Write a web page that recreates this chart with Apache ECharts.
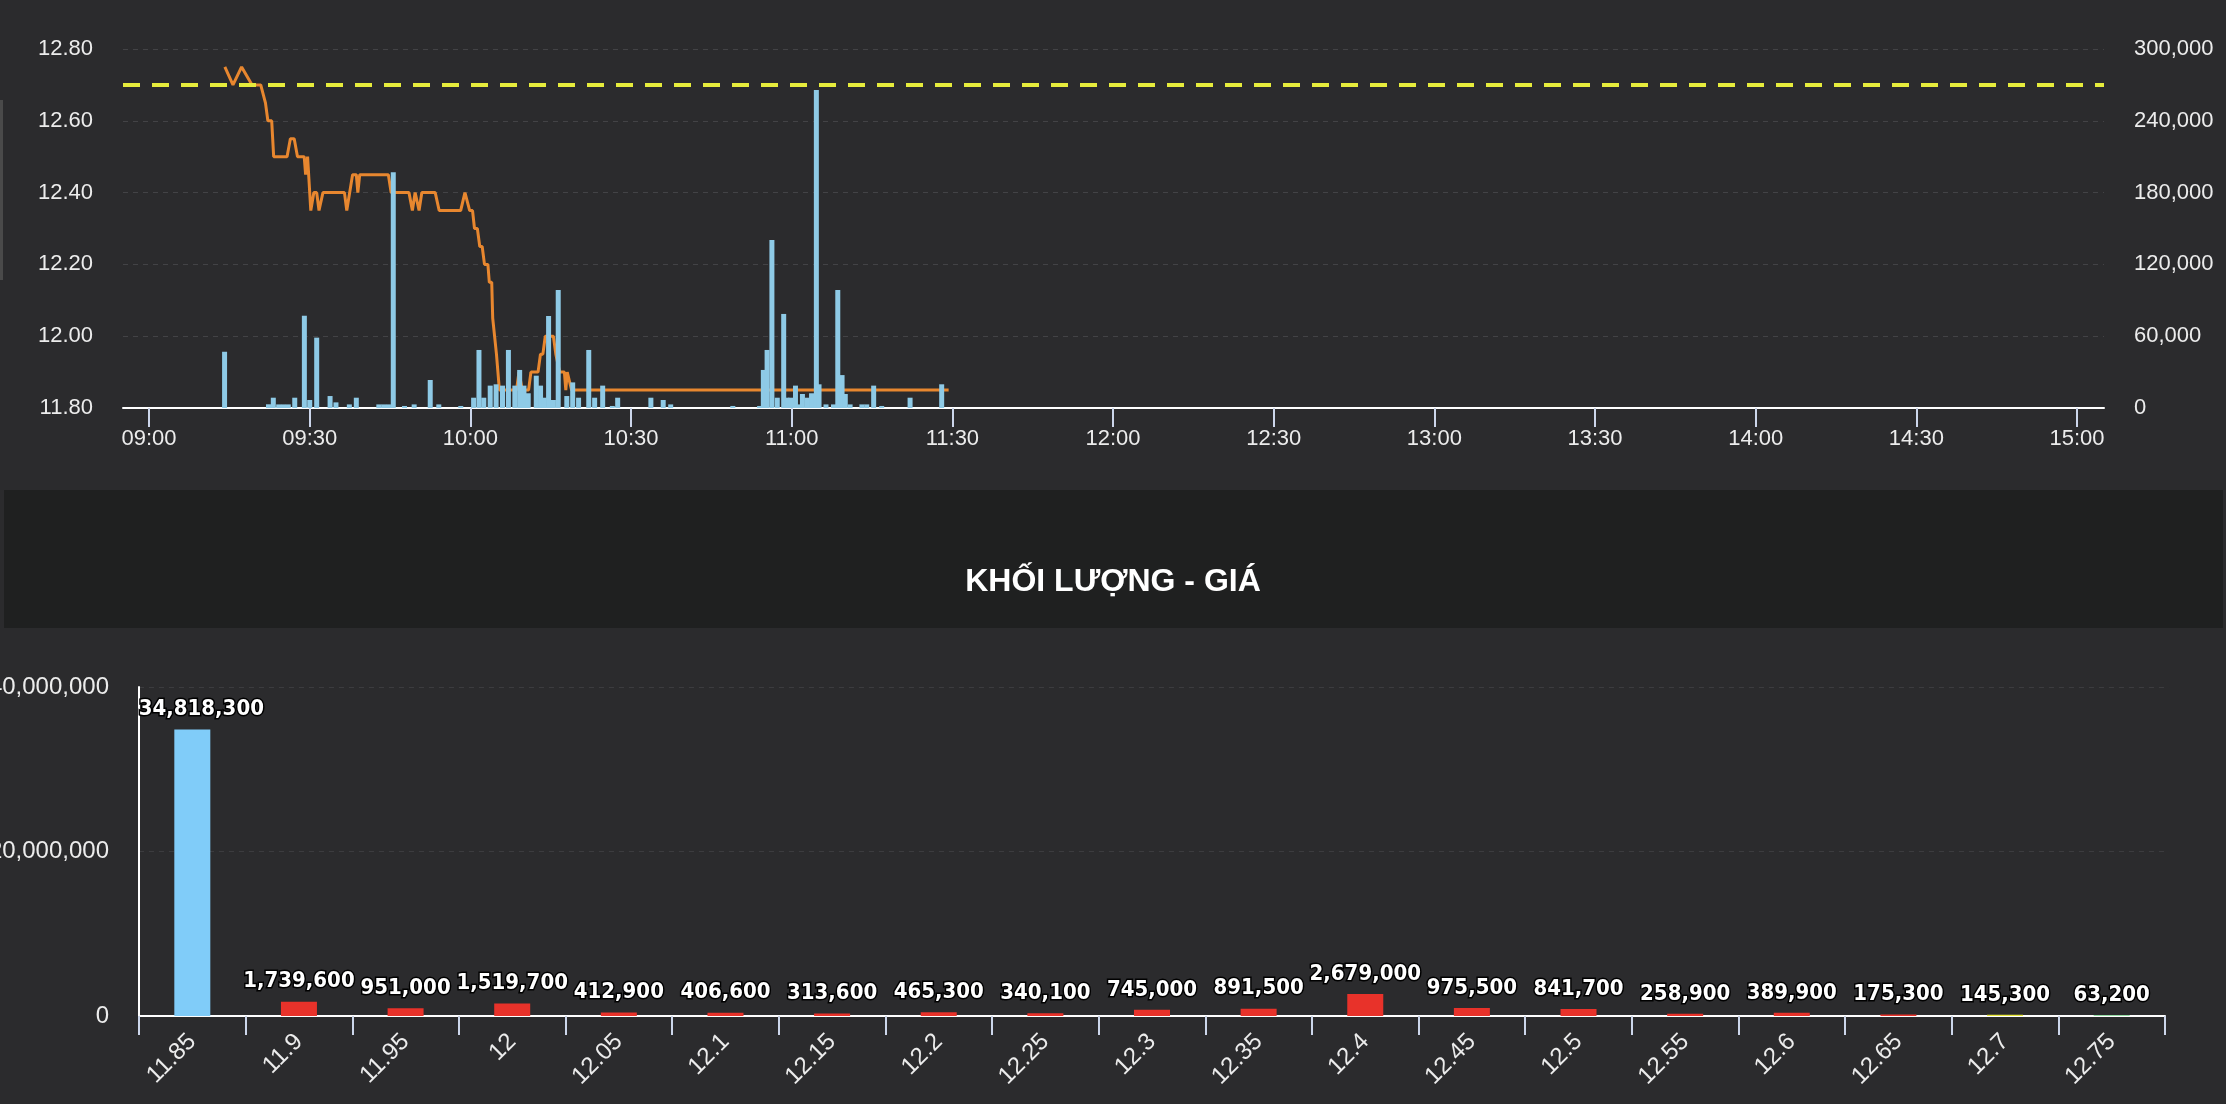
<!DOCTYPE html>
<html><head><meta charset="utf-8">
<script src="https://cdn.jsdelivr.net/npm/echarts@6/dist/echarts.min.js"></script>
<style>html,body{margin:0;padding:0;background:#2b2b2d;overflow:hidden}#c{width:2226px;height:1104px}</style>
</head><body><div id="c"></div>
<script>
// ---- data ----
const priceTimes = ['09:14:09','09:15:40','09:17:17','09:19:14','09:20:51','09:21:44','09:22:11','09:22:54','09:23:16','09:25:46','09:26:23','09:27:06','09:27:43','09:28:58','09:29:14','09:29:36','09:30:12','09:30:46','09:31:18','09:31:44','09:32:28','09:36:29','09:36:55','09:38:00','09:38:42','09:38:59','09:39:20','09:44:41','09:45:12','09:48:32','09:49:10','09:49:41','09:50:25','09:50:56','09:53:26','09:54:10','09:58:11','09:58:59','09:59:52','10:00:24','10:00:46','10:01:18','10:01:45','10:02:12','10:02:38','10:03:16','10:03:32','10:03:59','10:04:10','10:04:31','10:04:52','10:05:25','10:08:37','10:09:04','10:09:42','10:10:52','10:11:18','10:12:38','10:13:05','10:13:32','10:13:59','10:15:30','10:15:57','10:16:40','10:17:33','10:17:49','10:18:05','10:18:27','10:18:54','11:29:18'];
const priceValues = [12.75,12.70,12.75,12.70,12.70,12.65,12.60,12.60,12.50,12.50,12.55,12.55,12.50,12.50,12.45,12.50,12.35,12.40,12.40,12.35,12.40,12.40,12.35,12.45,12.45,12.40,12.45,12.45,12.40,12.40,12.35,12.40,12.35,12.40,12.40,12.35,12.35,12.40,12.35,12.35,12.30,12.30,12.25,12.25,12.20,12.20,12.15,12.15,12.05,12.00,11.95,11.85,11.85,11.90,11.85,11.85,11.90,11.90,11.95,11.95,12.00,12.00,11.95,11.90,11.90,11.85,11.90,11.90,11.85,11.85];

const volTimes = ['09:14:06','09:22:18','09:23:12','09:24:12','09:25:06','09:26:00','09:27:12','09:29:00','09:30:00','09:31:18','09:33:48','09:34:54','09:37:24','09:38:42','09:42:54','09:43:48','09:44:42','09:45:36','09:47:42','09:49:30','09:52:30','09:54:06','09:58:12','10:00:36','10:01:36','10:02:30','10:03:42','10:04:48','10:06:00','10:07:06','10:08:18','10:09:12','10:10:00','10:10:48','10:12:18','10:13:06','10:13:48','10:14:36','10:15:30','10:16:24','10:18:00','10:19:06','10:20:12','10:22:06','10:23:12','10:24:42','10:26:30','10:27:30','10:33:42','10:36:00','10:37:24','10:49:00','10:54:00','10:54:42','10:55:24','10:56:18','10:57:18','10:58:30','10:59:06','10:59:48','11:00:42','11:01:18','11:02:00','11:02:54','11:03:42','11:04:36','11:05:06','11:06:24','11:07:48','11:08:36','11:09:24','11:10:00','11:10:54','11:13:06','11:14:00','11:15:18','11:16:48','11:22:06','11:28:00'];
const volValues = [47000,3100,8600,3000,3000,3000,8600,77100,6700,58800,10000,4700,3000,8600,3000,3000,3000,197000,1700,3000,23400,3000,1700,8600,48500,8600,18700,19800,18700,48500,18700,31800,18700,12300,27000,18700,8600,76900,6700,98600,10000,21400,8600,48500,8600,18700,1700,8600,8600,6700,3000,1700,1700,31800,48500,140400,8600,78600,8600,8600,18700,3000,11700,8600,12300,265800,19800,3000,3000,98600,27500,11700,3000,3000,3000,18700,1700,8600,19800];

const referencePrice = 12.70;
const floorPrice = 11.85;
const timeTicks = ['09:00','09:30','10:00','10:30','11:00','11:30','12:00','12:30','13:00','13:30','14:00','14:30','15:00'];
const axisStart = '08:55:08';
const axisEnd = '15:05:02';

const priceLevels = ['11.85','11.9','11.95','12','12.05','12.1','12.15','12.2','12.25','12.3','12.35','12.4','12.45','12.5','12.55','12.6','12.65','12.7','12.75'];
const levelVolumes = [34818300,1739600,951000,1519700,412900,406600,313600,465300,340100,745000,891500,2679000,975500,841700,258900,389900,175300,145300,63200];

// ---- helpers ----
function toMin(t){const p=t.split(':').map(Number);return p[0]*60+p[1]+(p[2]||0)/60;}
function fmtTime(v){const h=Math.floor(v/60+1e-6), m=Math.round(v-h*60);return String(h).padStart(2,'0')+':'+String(m).padStart(2,'0');}
function fmtNum(v){return Math.round(v).toLocaleString('en-US');}

const AX_FONT = "'Liberation Sans', Arial, sans-serif";
const LBL_COLOR = '#ececec';
const TICK_COLOR = '#ccd6eb';
const GRID_COLOR = '#434346';

const chart = echarts.init(document.getElementById('c'), null, {renderer:'canvas'});

const pricePairs = priceTimes.map((t,i)=>[toMin(t), priceValues[i]]);
const volPairs = volTimes.map((t,i)=>[toMin(t), volValues[i]]);
const tickVals = timeTicks.map(toMin);

function levelColor(p){
  const v = parseFloat(p);
  if (Math.abs(v - floorPrice) < 1e-9) return '#80ccf9';
  if (Math.abs(v - referencePrice) < 1e-9) return '#e9e93a';
  if (v > referencePrice) return '#2bbd4a';
  return '#e8322a';
}

const option = {
  backgroundColor: '#2b2b2d',
  animation: false,
  title: {
    text: 'KHỐI LƯỢNG - GIÁ',
    left: 'center',
    top: 561,
    textStyle: {color:'#ffffff', fontSize:32, fontWeight:'bold', fontFamily: AX_FONT}
  },
  graphic: [
    {type:'rect', left:4, top:490, z:-10, shape:{width:2219, height:138}, style:{fill:'#1f2020'}},
    {type:'rect', left:0, top:100, z:-10, shape:{width:3, height:180}, style:{fill:'#4a4a4a'}}
  ],
  grid: [
    {left:123, right:122, top:49, height:359, containLabel:false, outerBoundsMode:'none'},
    {left:139, right:61, top:687, height:329, containLabel:false, outerBoundsMode:'none'}
  ],
  xAxis: [
    {
      type:'value', gridIndex:0, min: toMin(axisStart), max: toMin(axisEnd),
      axisLine:{show:true, lineStyle:{color:'#ffffff', width:2}},
      axisTick:{show:true, customValues: tickVals, length:19, lineStyle:{color:TICK_COLOR, width:2}},
      axisLabel:{customValues: tickVals, formatter: fmtTime, color:LBL_COLOR, fontSize:22, fontFamily:AX_FONT, margin:20},
      splitLine:{show:false}
    },
    {
      type:'category', gridIndex:1, data: priceLevels, boundaryGap:true,
      axisLine:{show:true, lineStyle:{color:'#ffffff', width:2}},
      axisTick:{show:true, alignWithLabel:false, length:19, lineStyle:{color:TICK_COLOR, width:2}},
      axisLabel:{rotate:45, color:LBL_COLOR, fontSize:24, fontFamily:AX_FONT, margin:22, interval:0},
      splitLine:{show:false}
    }
  ],
  yAxis: [
    {
      type:'value', gridIndex:0, position:'left', min:11.8, max:12.8, interval:0.2,
      axisLine:{show:false}, axisTick:{show:false},
      axisLabel:{formatter:v=>v.toFixed(2), color:LBL_COLOR, fontSize:22, fontFamily:AX_FONT, margin:30},
      splitLine:{show:true, lineStyle:{color:GRID_COLOR, type:[5,5], width:1}}
    },
    {
      type:'value', gridIndex:0, position:'right', min:0, max:300000, interval:60000,
      axisLine:{show:false}, axisTick:{show:false},
      axisLabel:{formatter:fmtNum, color:LBL_COLOR, fontSize:22, fontFamily:AX_FONT, margin:30},
      splitLine:{show:false}
    },
    {
      type:'value', gridIndex:1, min:0, max:40000000, interval:20000000,
      axisLine:{show:true, lineStyle:{color:'#ffffff', width:2}}, axisTick:{show:false},
      axisLabel:{formatter:fmtNum, color:LBL_COLOR, fontSize:24, fontFamily:AX_FONT, margin:30},
      splitLine:{show:true, lineStyle:{color:'#3c3c3f', type:[5,5], width:1}}
    }
  ],
  series: [
    {
      name:'Giá', type:'line', xAxisIndex:0, yAxisIndex:0, data: pricePairs,
      showSymbol:false, symbol:'none', z:2,
      lineStyle:{color:'#e8872f', width:3},
      markLine:{
        silent:true, symbol:'none', label:{show:false},
        lineStyle:{color:'#e6ec3c', width:4, type:[17,12]},
        data:[{yAxis: referencePrice}]
      }
    },
    {
      name:'KL', type:'bar', xAxisIndex:0, yAxisIndex:1, data: volPairs,
      barWidth:5, z:3, itemStyle:{color:'#8ecae6'}
    },
    {
      name:'KL-Giá', type:'bar', xAxisIndex:1, yAxisIndex:2,
      data: levelVolumes.map((v,i)=>{
        const d = {value:v, itemStyle:{color: levelColor(priceLevels[i])}};
        if (i === 0) d.label = {offset:[9,0]};
        return d;
      }),
      barWidth:36,
      label:{
        show:true, position:'top', distance:9, formatter:p=>fmtNum(p.value),
        color:'#ffffff', fontSize:22, fontWeight:'bold', fontFamily:"'DejaVu Sans Condensed', 'DejaVu Sans', Verdana, sans-serif",
        textBorderColor:'#000000', textBorderWidth:3
      }
    }
  ]
};
chart.setOption(option);
</script>
</body></html>
